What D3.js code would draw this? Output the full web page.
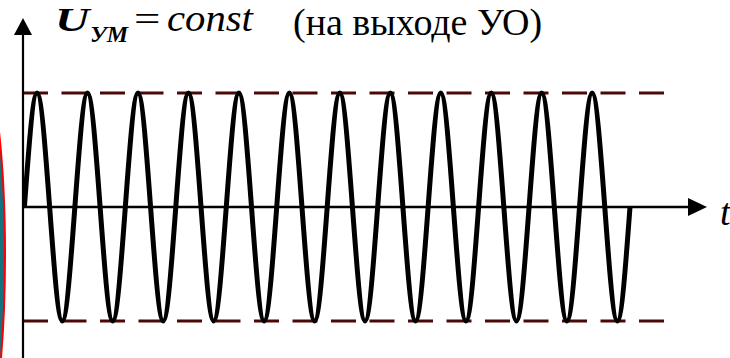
<html>
<head>
<meta charset="UTF-8">
<script src="https://d3js.org/d3.v7.min.js"></script>
<style>
    body { margin: 0; }
    #chart { position: relative; width: 730px; height: 358px; }
    .lbl { position: absolute; font-family: 'Liberation Serif', 'Times New Roman', serif; color: #000; white-space: nowrap; line-height: 1; }
</style>
</head>
<body>
<div id="chart"></div>
<script>
    var svgwidth = 730;
    var svgheight = 358;

    // signal values at each quarter period (12 full periods)
    var uValues = [0, 1, 0, -1, 0, 1, 0, -1, 0, 1, 0, -1, 0, 1, 0, -1,
                   0, 1, 0, -1, 0, 1, 0, -1, 0, 1, 0, -1, 0, 1, 0, -1,
                   0, 1, 0, -1, 0, 1, 0, -1, 0, 1, 0, -1, 0, 1, 0, -1, 0];
    var periods = 12;
    // dashed reference levels (amplitude)
    var levels = [1, -1];

    var svg = d3.select('#chart')
        .append('svg')
        .style('position', 'absolute')
        .style('left', '0px')
        .style('top', '0px')
        .attr('width', svgwidth)
        .attr('height', svgheight);

    var x_scale = d3.scaleLinear()
        .domain([0, periods])
        .range([24.4, 630]);

    var y_scale = d3.scaleLinear()
        .domain([-1, 1])
        .range([321, 93]);

    var x0 = 23;
    var y0 = y_scale(0);

    // red/teal shape at the left edge
    svg.append('ellipse')
        .attr('cx', -40)
        .attr('cy', 255)
        .attr('rx', 45)
        .attr('ry', 245)
        .attr('fill', '#17707e')
        .attr('stroke', '#ff0000')
        .attr('stroke-width', 2);

    // dashed amplitude lines
    svg.selectAll('.level')
        .data(levels)
        .enter()
        .append('line')
        .attr('class', 'level')
        .attr('x1', x0)
        .attr('x2', 665)
        .attr('y1', d => y_scale(d))
        .attr('y2', d => y_scale(d))
        .attr('stroke', '#4a0808')
        .attr('stroke-width', 3)
        .attr('stroke-dasharray', '25,13.5');

    // axes
    svg.append('line')
        .attr('x1', x0).attr('x2', x0)
        .attr('y1', svgheight).attr('y2', 30)
        .attr('stroke', '#000').attr('stroke-width', 2.2);
    svg.append('path')
        .attr('d', `M${x0},18 L${x0 - 9},35 L${x0 + 9},35 Z`)
        .attr('fill', '#000');

    svg.append('line')
        .attr('x1', x0).attr('x2', 692)
        .attr('y1', y0).attr('y2', y0)
        .attr('stroke', '#000').attr('stroke-width', 2.5);
    svg.append('path')
        .attr('d', `M707,${y0} L688,${y0 - 9} L688,${y0 + 9} Z`)
        .attr('fill', '#000');

    // signal curve
    var line = d3.line()
        .x((d, i) => x_scale(i / 4))
        .y(d => y_scale(d))
        .curve(d3.curveNatural);

    svg.append('path')
        .datum(uValues)
        .attr('d', line)
        .attr('fill', 'none')
        .attr('stroke', '#000')
        .attr('stroke-width', 5)
        .attr('stroke-linejoin', 'round');

    // labels as html text; y is the baseline, approx top = baseline - 0.89*size
    var labels = [
        {x: 55, y: 33, size: 34, txt: 'U', italic: true, bold: true, sx: 1.4},
        {x: 90, y: 43, size: 24, txt: 'УМ', italic: true, bold: true, sx: 1.0},
        {x: 134, y: 33, size: 36, txt: '=', sx: 1.3},
        {x: 167, y: 33, size: 37, txt: 'const', italic: true, sx: 1.1},
        {x: 293, y: 37, size: 38, txt: '(на выходе УО)', sx: 1.0},
        {x: 720, y: 227, size: 38, txt: 't', italic: true, sx: 1.0}
    ];

    d3.select('#chart').selectAll('.lbl')
        .data(labels)
        .enter()
        .append('div')
        .attr('class', 'lbl')
        .style('left', d => d.x + 'px')
        .style('top', d => (d.y - 0.89 * d.size) + 'px')
        .style('font-size', d => d.size + 'px')
        .style('font-style', d => d.italic ? 'italic' : 'normal')
        .style('font-weight', d => d.bold ? 'bold' : 'normal')
        .style('transform-origin', '0 0')
        .style('transform', d => 'scaleX(' + d.sx + ')')
        .text(d => d.txt);
</script>
</body>
</html>
